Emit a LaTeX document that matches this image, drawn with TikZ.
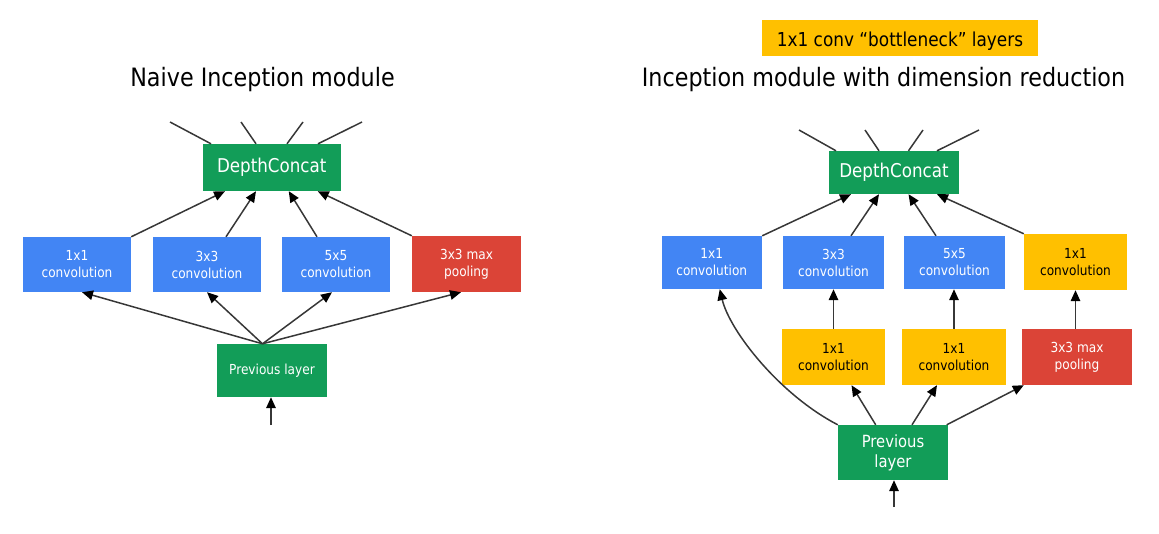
\documentclass[tikz,border=0pt]{standalone}
\usepackage{fontspec}
\newfontfamily\tah{DejaVu Sans}[FakeStretch=0.88]
\usetikzlibrary{arrows.meta,calc}
\definecolor{gblue}{RGB}{66,133,244}
\definecolor{gred}{RGB}{219,68,55}
\definecolor{ggreen}{RGB}{18,157,88}
\definecolor{gyel}{RGB}{255,192,0}
\definecolor{lineg}{RGB}{55,55,55}
\begin{document}
\begin{tikzpicture}[x=1pt,y=-1pt,
  box/.style={rectangle, inner sep=0pt, align=center, font=\tah\fontsize{13.8}{17}\selectfont},
  blu/.style={box, fill=gblue, text=white},
  yel/.style={box, fill=gyel, text=black},
  redb/.style={box, fill=gred, text=white},
  grn/.style={box, fill=ggreen, text=white},
  arr/.style={draw=lineg, line width=1.5pt, -{Triangle[length=11pt,width=9.5pt,color=black,fill=black]}},
  ln/.style={draw=lineg, line width=1.5pt},
  ttl/.style={anchor=base, text=black, font=\tah\fontsize{25.3}{28}\selectfont}]
\useasboundingbox (0,0) rectangle (1159,533);

% ---------------- Left panel ----------------
\node[ttl] (titleL) at (262.5,86) {Naive Inception module};
\node[grn, minimum width=138.5pt, minimum height=47pt, font=\tah\fontsize{19}{22}\selectfont] (dcL) at (271.75,167.5) {DepthConcat};
\node[blu, minimum width=108pt, minimum height=55pt] (aL) at (77,264.5) {1x1\\convolution};
\node[blu, minimum width=108pt, minimum height=55pt] (bL) at (207,264.5) {3x3\\convolution};
\node[blu, minimum width=108pt, minimum height=55pt] (cL) at (336,264.5) {5x5\\convolution};
\node[redb, minimum width=109pt, minimum height=56pt] (dL) at (466.5,264) {3x3 max\\pooling};
\node[grn, minimum width=110pt, minimum height=53pt] (pL) at (272,370.5) {Previous layer};
\coordinate (inL) at (271,425);
\coordinate (tL1) at (170,122);
\coordinate (tL2) at (241,122);
\coordinate (tL3) at (303,122);
\coordinate (tL4) at (362,122);

\draw[ln] ($(dcL.north)+(-60.75,0)$) -- (tL1);
\draw[ln] ($(dcL.north)+(-15.75,0)$) -- (tL2);
\draw[ln] ($(dcL.north)+(15.25,0)$) -- (tL3);
\draw[ln] ($(dcL.north)+(46.25,0)$) -- (tL4);

\draw[arr] (aL.north east) -- ($(dcL.south)+(-46.75,0)$);
\draw[arr] ($(bL.north)+(19,0)$) -- ($(dcL.south)+(-15.75,0)$);
\draw[arr] ($(cL.north)+(-19,0)$) -- ($(dcL.south)+(17,0)$);
\draw[arr] (dL.north west) -- ($(dcL.south)+(46,0)$);

\draw[arr] ($(pL.north)+(-9.5,0)$) -- ($(aL.south)+(5,0)$);
\draw[arr] ($(pL.north)+(-9.5,0)$) -- (bL.south);
\draw[arr] ($(pL.north)+(-9.5,0)$) -- ($(cL.south)+(-4,0)$);
\draw[arr] ($(pL.north)+(-9.5,0)$) -- ($(dL.south)+(-5.5,0)$);
\draw[arr] (inL) -- (inL |- pL.south);

% ---------------- Right panel ----------------
\node[yel, minimum width=276pt, minimum height=36pt, font=\tah\fontsize{19.2}{22}\selectfont, text height=18pt, text depth=2pt] (lab) at (900,38) {1x1 conv “bottleneck” layers};
\node[ttl] (titleR) at (883.5,86) {Inception module with dimension reduction};
\node[grn, minimum width=130pt, minimum height=43pt, font=\tah\fontsize{19}{22}\selectfont] (dcR) at (894,172.5) {DepthConcat};
\node[blu, minimum width=100.5pt, minimum height=53pt] (aR) at (711.75,262.5) {1x1\\convolution};
\node[blu, minimum width=101pt, minimum height=53pt] (bR) at (833.5,262.5) {3x3\\convolution};
\node[blu, minimum width=101pt, minimum height=53pt] (cR) at (954.5,262.5) {5x5\\convolution};
\node[yel, minimum width=103pt, minimum height=56pt] (dR) at (1075.5,262) {1x1\\convolution};
\node[yel, minimum width=103pt, minimum height=56pt] (eR) at (833.5,357) {1x1\\convolution};
\node[yel, minimum width=104pt, minimum height=56pt] (fR) at (954,357) {1x1\\convolution};
\node[redb, minimum width=110pt, minimum height=56pt] (gR) at (1077,357) {3x3 max\\pooling};
\node[grn, minimum width=110pt, minimum height=55pt, font=\tah\fontsize{16.8}{20}\selectfont] (pR) at (893,452.5) {Previous\\layer};
\coordinate (inR) at (894,507);
\coordinate (tR1) at (799,130);
\coordinate (tR2) at (865,130);
\coordinate (tR3) at (923,130);
\coordinate (tR4) at (979,130);

\draw[ln] ($(dcR.north)+(-58,0)$) -- (tR1);
\draw[ln] ($(dcR.north)+(-15,0)$) -- (tR2);
\draw[ln] ($(dcR.north)+(14.5,0)$) -- (tR3);
\draw[ln] ($(dcR.north)+(43,0)$) -- (tR4);

\draw[arr] (aR.north east) -- ($(dcR.south)+(-43,0)$);
\draw[arr] ($(bR.north)+(17.5,0)$) -- ($(dcR.south)+(-15,0)$);
\draw[arr] ($(cR.north)+(-18.5,0)$) -- ($(dcR.south)+(14.5,0)$);
\draw[arr] (dR.north west) -- ($(dcR.south)+(43,0)$);

\draw[arr] (eR.north) -- (bR.south);
\draw[arr] (fR.north) -- (fR.north |- cR.south);
\draw[arr] (gR.north -| dR.south) -- (dR.south);

\draw[arr] (pR.north west) .. controls +(-58,-30) and +(10,42) .. ($(aR.south)+(8,0)$);
\draw[arr] ($(pR.north)+(-17.3,0)$) -- ($(eR.south)+(18,0)$);
\draw[arr] ($(pR.north)+(19,0)$) -- ($(fR.south)+(-17,0)$);
\draw[arr] ($(pR.north east)+(-1.5,0)$) -- ($(gR.south west)+(2,0)$);
\draw[arr] (inR) -- (inR |- pR.south);
\end{tikzpicture}
\end{document}
